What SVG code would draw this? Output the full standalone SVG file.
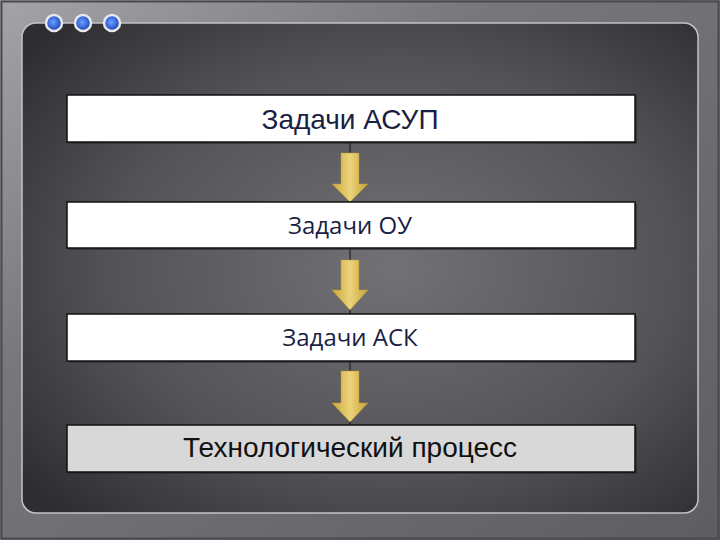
<svg xmlns="http://www.w3.org/2000/svg" width="720" height="540" viewBox="0 0 720 540">
<defs>
<linearGradient id="frame" x1="0" y1="0" x2="1" y2="1">
<stop offset="0" stop-color="#a4a4a8"/>
<stop offset="0.35" stop-color="#77777b"/>
<stop offset="1" stop-color="#5e5e62"/>
</linearGradient>
<radialGradient id="panel" cx="0.55" cy="0.5" r="0.7">
<stop offset="0" stop-color="#727276"/>
<stop offset="0.6" stop-color="#535357"/>
<stop offset="1" stop-color="#2e2e32"/>
</radialGradient>
<radialGradient id="dot" cx="0.45" cy="0.45" r="0.55">
<stop offset="0" stop-color="#6fa0ff"/>
<stop offset="0.7" stop-color="#2f5fd0"/>
<stop offset="1" stop-color="#1d3c90"/>
</radialGradient>
<linearGradient id="arrowG" x1="0" y1="0" x2="1" y2="0">
<stop offset="0" stop-color="#c9a83c"/>
<stop offset="0.5" stop-color="#ecd37a"/>
<stop offset="1" stop-color="#c4a238"/>
</linearGradient>
</defs>
<style>
.box{stroke:#111;stroke-width:1.5}
.shadow{fill:#2a2a2c;opacity:0.6}
.t1{font-family:"Liberation Sans",Arial,sans-serif;font-size:28px;fill:#1a1f45;text-anchor:middle}
.t2{font-family:"Open Sans","Noto Sans",sans-serif;font-size:24px;fill:#1a1f45;text-anchor:middle}
.t4{font-family:"Liberation Sans",Arial,sans-serif;font-size:28px;fill:#111;text-anchor:middle}
.line{stroke:#111;stroke-width:1}
.arrow{fill:url(#arrowG);stroke:#b8972e;stroke-width:0.5}
.ring{fill:url(#dot);stroke:#e8e8f0;stroke-width:2.5}
</style>
<rect x="0" y="0" width="720" height="540" fill="url(#frame)"/>
<rect x="1.5" y="1.5" width="717" height="537" fill="none" stroke="#4a4a4e" stroke-width="2"/>
<rect x="22" y="23" width="676" height="490" rx="14" fill="url(#panel)" stroke="#c4c4c8" stroke-width="1.5"/>
<g id="dots">
<circle class="ring" cx="54" cy="23" r="8"/>
<circle class="ring" cx="83" cy="23" r="8"/>
<circle class="ring" cx="112" cy="23" r="8"/>
</g>
<g id="connectors">
<line class="line" x1="350" y1="142" x2="350" y2="202"/>
<polygon class="arrow" points="341,153 359,153 359,184 368,184 350,202 332,184 341,184"/>
<line class="line" x1="350" y1="248" x2="350" y2="314"/>
<polygon class="arrow" points="341,260 359,260 359,290 368,290 350,310 332,290 341,290"/>
<line class="line" x1="350" y1="361" x2="350" y2="425"/>
<polygon class="arrow" points="341,371 359,371 359,403 368,403 350,422 332,403 341,403"/>
</g>
<g id="node1">
<rect class="shadow" x="69" y="97" width="568" height="47"/>
<rect class="box" x="67" y="95" width="568" height="47" fill="#ffffff"/>
<text class="t1" x="350" y="129">Задачи АСУП</text>
</g>
<g id="node2">
<rect class="shadow" x="69" y="204" width="568" height="46"/>
<rect class="box" x="67" y="202" width="568" height="46" fill="#ffffff"/>
<text class="t2" x="350" y="234">Задачи ОУ</text>
</g>
<g id="node3">
<rect class="shadow" x="69" y="316" width="568" height="47"/>
<rect class="box" x="67" y="314" width="568" height="47" fill="#ffffff"/>
<text class="t2" x="350" y="346">Задачи АСК</text>
</g>
<g id="node4">
<rect class="shadow" x="69" y="427" width="568" height="47"/>
<rect class="box" x="67" y="425" width="568" height="47" fill="#d8d8d8"/>
<text class="t4" x="350" y="457">Технологический процесс</text>
</g>
</svg>
